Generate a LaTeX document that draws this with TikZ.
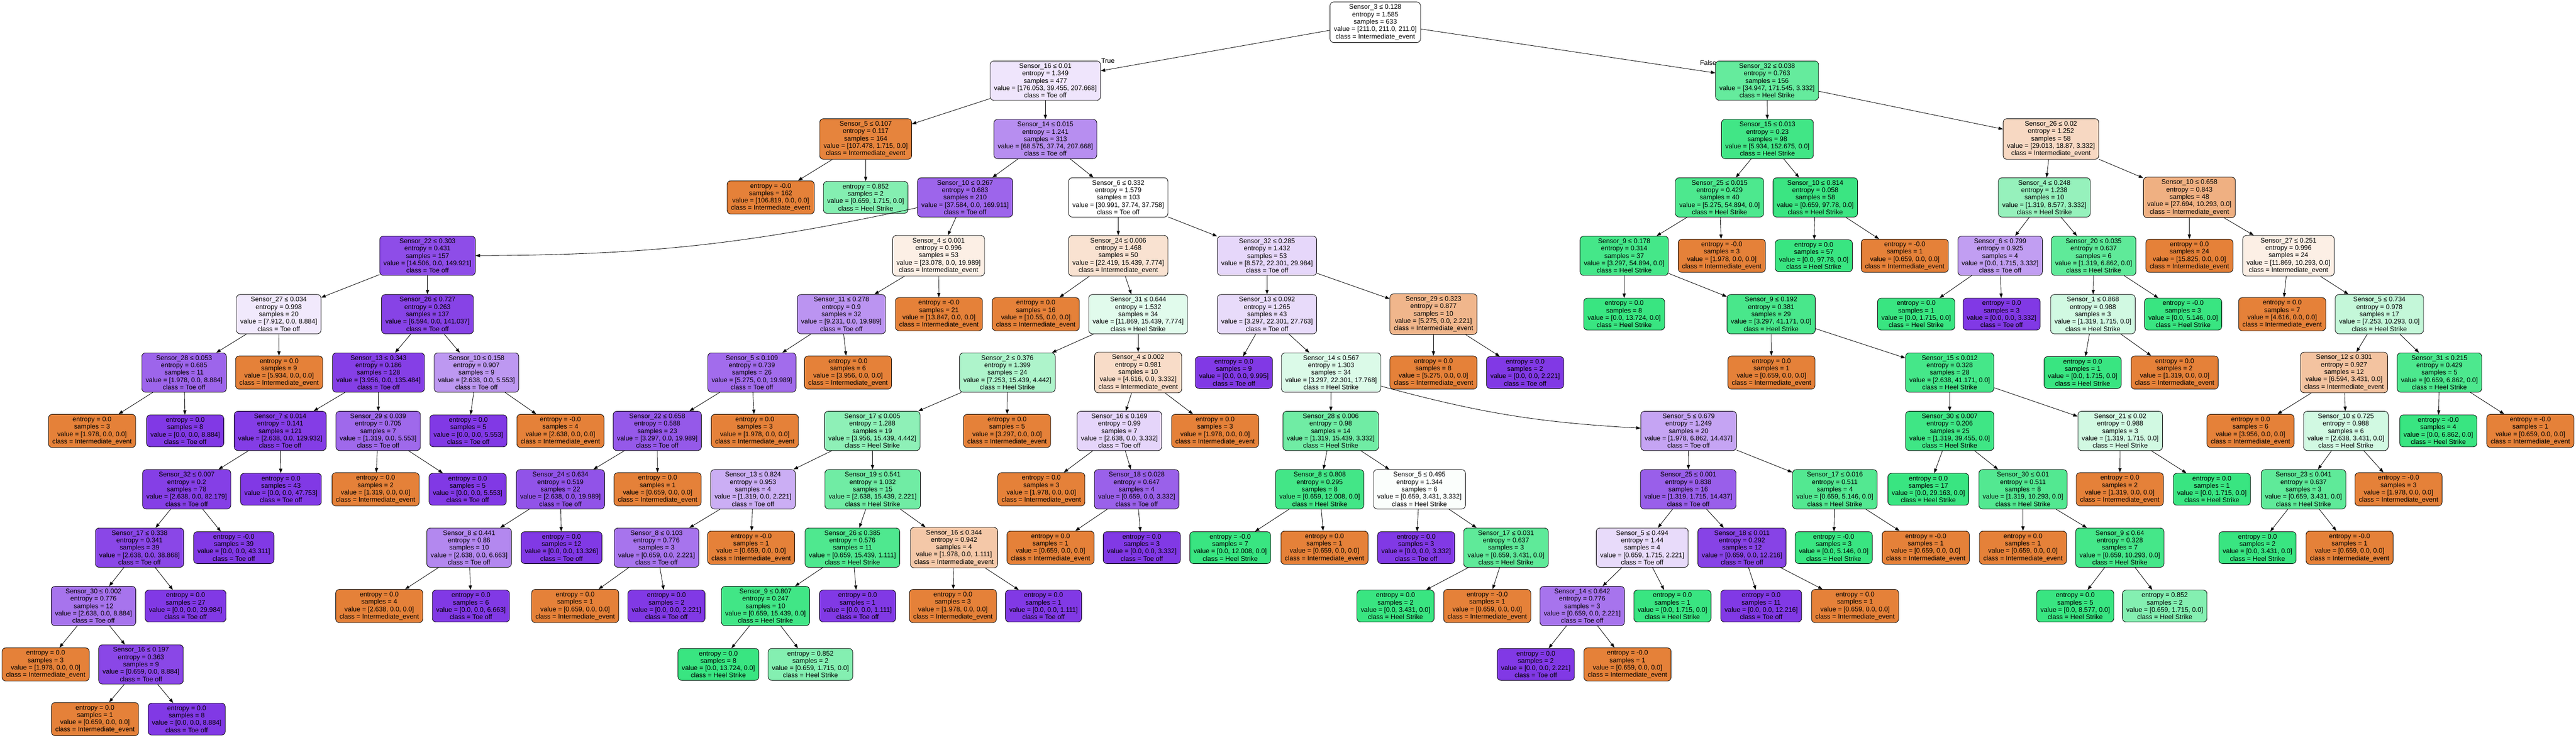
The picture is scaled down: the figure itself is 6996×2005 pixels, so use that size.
\documentclass[tikz,border=0pt]{standalone}
\usepackage{fontspec}
\setmainfont{Liberation Sans}
\usetikzlibrary{arrows.meta}
\definecolor{cI}{HTML}{E58139}
\definecolor{cH}{HTML}{39E581}
\definecolor{cT}{HTML}{8139E5}
\tikzset{
  tbox/.style={rectangle, rounded corners=5pt, draw=black, line width=0.6pt, align=center,
    inner xsep=5.25pt, inner ysep=3.5pt, font=\fontsize{9pt}{10pt}\selectfont},
  conn/.style={-{Triangle[length=6pt,width=4.4pt]}, line width=0.6pt, black},
  lbl/.style={inner sep=0pt, font=\fontsize{9pt}{10pt}\selectfont}
}
\newcommand\SPL[4]{Sensor\_#1 ≤ #2\\entropy = #3\\samples = #4}
\newcommand\LEAF[2]{entropy = #1\\samples = #2}
\newcommand\dn[7]{%
  \pgfmathsetmacro\sA{#4+#5+#6}%
  \pgfmathsetmacro\pA{#4/\sA}%
  \pgfmathsetmacro\pB{#5/\sA}%
  \pgfmathsetmacro\pC{#6/\sA}%
  \pgfmathsetmacro\mOne{max(\pA,\pB,\pC)}%
  \pgfmathsetmacro\mTwo{\pA+\pB+\pC-\mOne-min(\pA,\pB,\pC)}%
  \pgfmathtruncatemacro\alp{round(100*(\mOne-\mTwo)/(1-\mTwo))}%
  \pgfmathtruncatemacro\cls{(\pA>=\pB && \pA>=\pC) ? 0 : ((\pB>=\pC) ? 1 : 2)}%
  \pgfmathsetmacro\yy{60.5+158.6*#3-((#3>11) ? 10 : 0)}%
  \ifcase\cls \def\cname{Intermediate\_event}\colorlet{nfill}{cI!\alp!white}%
  \or \def\cname{Heel Strike}\colorlet{nfill}{cH!\alp!white}%
  \or \def\cname{Toe off}\colorlet{nfill}{cT!\alp!white}\fi
  \node[tbox, fill=nfill] (#1) at (#2,\yy) {#7\\value = [#4, #5, #6]\\class = \cname};%
}
\begin{document}
\begin{tikzpicture}[x=0.5pt,y=-0.5pt]
\useasboundingbox (0,0) rectangle (6996,2005);
% level 0-3
\dn{R}{3735}{0}{211.0}{211.0}{211.0}{\SPL{3}{0.128}{1.585}{633}}
\dn{A}{2839}{1}{176.053}{39.455}{207.668}{\SPL{16}{0.01}{1.349}{477}}
\dn{B}{4799}{1}{34.947}{171.545}{3.332}{\SPL{32}{0.038}{0.763}{156}}
\dn{Aa}{2351}{2}{107.478}{1.715}{0.0}{\SPL{5}{0.107}{0.117}{164}}
\dn{Ab}{2839}{2}{68.575}{37.74}{207.668}{\SPL{14}{0.015}{1.241}{313}}
\dn{Ba}{4800}{2}{5.934}{152.675}{0.0}{\SPL{15}{0.013}{0.23}{98}}
\dn{Bb}{5570}{2}{29.013}{18.87}{3.332}{\SPL{26}{0.02}{1.252}{58}}
\dn{Aaa}{2093}{3}{106.819}{0.0}{0.0}{\LEAF{-0.0}{162}}
\dn{Aab}{2351}{3}{0.659}{1.715}{0.0}{\LEAF{0.852}{2}}
\dn{Aba}{2621}{3}{37.584}{0.0}{169.911}{\SPL{10}{0.267}{0.683}{210}}
\dn{Abb}{3037}{3}{30.991}{37.74}{37.758}{\SPL{6}{0.332}{1.579}{103}}
\dn{Baa}{4670}{3}{5.275}{54.894}{0.0}{\SPL{25}{0.015}{0.429}{40}}
\dn{Bab}{4930}{3}{0.659}{97.78}{0.0}{\SPL{10}{0.814}{0.058}{58}}
\dn{Bba}{5552}{3}{1.319}{8.577}{3.332}{\SPL{4}{0.248}{1.238}{10}}
\dn{Bbb}{5946}{3}{27.694}{10.293}{0.0}{\SPL{10}{0.658}{0.843}{48}}
% level 4
\dn{c1}{1161}{4}{14.506}{0.0}{149.921}{\SPL{22}{0.303}{0.431}{157}}
\dn{c2}{2549}{4}{23.078}{0.0}{19.989}{\SPL{4}{0.001}{0.996}{53}}
\dn{c3}{3037}{4}{22.419}{15.439}{7.774}{\SPL{24}{0.006}{1.468}{50}}
\dn{c4}{3441}{4}{8.572}{22.301}{29.984}{\SPL{32}{0.285}{1.432}{53}}
\dn{c5}{4411}{4}{3.297}{54.894}{0.0}{\SPL{9}{0.178}{0.314}{37}}
\dn{c6}{4676}{4}{1.978}{0.0}{0.0}{\LEAF{-0.0}{3}}
\dn{c7}{4926}{4}{0.0}{97.78}{0.0}{\LEAF{0.0}{57}}
\dn{c8}{5173}{4}{0.659}{0.0}{0.0}{\LEAF{-0.0}{1}}
\dn{c9}{5432}{4}{0.0}{1.715}{3.332}{\SPL{6}{0.799}{0.925}{4}}
\dn{c10}{5686}{4}{1.319}{6.862}{0.0}{\SPL{20}{0.035}{0.637}{6}}
\dn{c11}{5946}{4}{15.825}{0.0}{0.0}{\LEAF{0.0}{24}}
\dn{c12}{6215}{4}{11.869}{10.293}{0.0}{\SPL{27}{0.251}{0.996}{24}}
% level 5
\dn{d1}{757}{5}{7.912}{0.0}{8.884}{\SPL{27}{0.034}{0.998}{20}}
\dn{d2}{1161}{5}{6.594}{0.0}{141.037}{\SPL{26}{0.727}{0.263}{137}}
\dn{d3}{2285}{5}{9.231}{0.0}{19.989}{\SPL{11}{0.278}{0.9}{32}}
\dn{d4}{2550}{5}{13.847}{0.0}{0.0}{\LEAF{-0.0}{21}}
\dn{d5}{2813}{5}{10.55}{0.0}{0.0}{\LEAF{0.0}{16}}
\dn{d6}{3091}{5}{11.869}{15.439}{7.774}{\SPL{31}{0.644}{1.532}{34}}
\dn{d7}{3441}{5}{3.297}{22.301}{27.763}{\SPL{13}{0.092}{1.265}{43}}
\dn{d8}{3893}{5}{5.275}{0.0}{2.221}{\SPL{29}{0.323}{0.877}{10}}
\dn{d9}{4411}{5}{0.0}{13.724}{0.0}{\LEAF{0.0}{8}}
\dn{d10}{4810}{5}{3.297}{41.171}{0.0}{\SPL{9}{0.192}{0.381}{29}}
\dn{d11}{5204}{5}{0.0}{1.715}{0.0}{\LEAF{0.0}{1}}
\dn{d12}{5436}{5}{0.0}{0.0}{3.332}{\LEAF{0.0}{3}}
\dn{d13}{5684}{5}{1.319}{1.715}{0.0}{\SPL{1}{0.868}{0.988}{3}}
\dn{d14}{5929}{5}{0.0}{5.146}{0.0}{\LEAF{-0.0}{3}}
\dn{d15}{6198}{5}{4.616}{0.0}{0.0}{\LEAF{0.0}{7}}
\dn{d16}{6462}{5}{7.253}{10.293}{0.0}{\SPL{5}{0.734}{0.978}{17}}
% level 6
\dn{e1}{500}{6}{1.978}{0.0}{8.884}{\SPL{28}{0.053}{0.685}{11}}
\dn{e2}{758}{6}{5.934}{0.0}{0.0}{\LEAF{0.0}{9}}
\dn{e3}{1028}{6}{3.956}{0.0}{135.484}{\SPL{13}{0.343}{0.186}{128}}
\dn{e4}{1294}{6}{2.638}{0.0}{5.553}{\SPL{10}{0.158}{0.907}{9}}
\dn{e5}{2042}{6}{5.275}{0.0}{19.989}{\SPL{5}{0.109}{0.739}{26}}
\dn{e6}{2303}{6}{3.956}{0.0}{0.0}{\LEAF{0.0}{6}}
\dn{e7}{2736}{6}{7.253}{15.439}{4.442}{\SPL{2}{0.376}{1.399}{24}}
\dn{e8}{3091}{6}{4.616}{0.0}{3.332}{\SPL{4}{0.002}{0.981}{10}}
\dn{e9}{3351}{6}{0.0}{0.0}{9.995}{\LEAF{0.0}{9}}
\dn{e10}{3615}{6}{3.297}{22.301}{17.768}{\SPL{14}{0.567}{1.303}{34}}
\dn{e11}{3893}{6}{5.275}{0.0}{0.0}{\LEAF{0.0}{8}}
\dn{e12}{4142}{6}{0.0}{0.0}{2.221}{\LEAF{0.0}{2}}
\dn{e13}{4811}{6}{0.659}{0.0}{0.0}{\LEAF{0.0}{1}}
\dn{e14}{5295}{6}{2.638}{41.171}{0.0}{\SPL{15}{0.012}{0.328}{28}}
\dn{e15}{5656}{6}{0.0}{1.715}{0.0}{\LEAF{0.0}{1}}
\dn{e16}{5906}{6}{1.319}{0.0}{0.0}{\LEAF{0.0}{2}}
\dn{e17}{6366}{6}{6.594}{3.431}{0.0}{\SPL{12}{0.301}{0.927}{12}}
\dn{e18}{6625}{6}{0.659}{6.862}{0.0}{\SPL{31}{0.215}{0.429}{5}}
% level 7
\dn{f1}{250}{7}{1.978}{0.0}{0.0}{\LEAF{0.0}{3}}
\dn{f2}{503}{7}{0.0}{0.0}{8.884}{\LEAF{0.0}{8}}
\dn{f3}{761}{7}{2.638}{0.0}{129.932}{\SPL{7}{0.014}{0.141}{121}}
\dn{f4}{1027}{7}{1.319}{0.0}{5.553}{\SPL{29}{0.039}{0.705}{7}}
\dn{f5}{1272}{7}{0.0}{0.0}{5.553}{\LEAF{0.0}{5}}
\dn{f6}{1522}{7}{2.638}{0.0}{0.0}{\LEAF{-0.0}{4}}
\dn{f7}{1785}{7}{3.297}{0.0}{19.989}{\SPL{22}{0.658}{0.588}{23}}
\dn{f8}{2050}{7}{1.978}{0.0}{0.0}{\LEAF{0.0}{3}}
\dn{f9}{2369}{7}{3.956}{15.439}{4.442}{\SPL{17}{0.005}{1.288}{19}}
\dn{f10}{2735}{7}{3.297}{0.0}{0.0}{\LEAF{0.0}{5}}
\dn{f11}{3040}{7}{2.638}{0.0}{3.332}{\SPL{16}{0.169}{0.99}{7}}
\dn{f12}{3300}{7}{1.978}{0.0}{0.0}{\LEAF{0.0}{3}}
\dn{f13}{3614}{7}{1.319}{15.439}{3.332}{\SPL{28}{0.006}{0.98}{14}}
\dn{f14}{4586}{7}{1.978}{6.862}{14.437}{\SPL{5}{0.679}{1.249}{20}}
\dn{f15}{5295}{7}{1.319}{39.455}{0.0}{\SPL{30}{0.007}{0.206}{25}}
\dn{f16}{5758}{7}{1.319}{1.715}{0.0}{\SPL{21}{0.02}{0.988}{3}}
\dn{f17}{6112}{7}{3.956}{0.0}{0.0}{\LEAF{0.0}{6}}
\dn{f18}{6371}{7}{2.638}{3.431}{0.0}{\SPL{10}{0.725}{0.988}{6}}
\dn{f19}{6622}{7}{0.0}{6.862}{0.0}{\LEAF{-0.0}{4}}
\dn{f20}{6872}{7}{0.659}{0.0}{0.0}{\LEAF{-0.0}{1}}
% level 8
\dn{g1}{507}{8}{2.638}{0.0}{82.179}{\SPL{32}{0.007}{0.2}{78}}
\dn{g2}{763}{8}{0.0}{0.0}{47.753}{\LEAF{0.0}{43}}
\dn{g3}{1020}{8}{1.319}{0.0}{0.0}{\LEAF{0.0}{2}}
\dn{g4}{1270}{8}{0.0}{0.0}{5.553}{\LEAF{0.0}{5}}
\dn{g5}{1522}{8}{2.638}{0.0}{19.989}{\SPL{24}{0.634}{0.519}{22}}
\dn{g6}{1786}{8}{0.659}{0.0}{0.0}{\LEAF{0.0}{1}}
\dn{g7}{2045}{8}{1.319}{0.0}{2.221}{\SPL{13}{0.824}{0.953}{4}}
\dn{g8}{2370}{8}{2.638}{15.439}{2.221}{\SPL{19}{0.541}{1.032}{15}}
\dn{g9}{2828}{8}{1.978}{0.0}{0.0}{\LEAF{0.0}{3}}
\dn{g10}{3087}{8}{0.659}{0.0}{3.332}{\SPL{18}{0.028}{0.647}{4}}
\dn{g11}{3584}{8}{0.659}{12.008}{0.0}{\SPL{8}{0.808}{0.295}{8}}
\dn{g12}{3855}{8}{0.659}{3.431}{3.332}{\SPL{5}{0.495}{1.344}{6}}
\dn{g13}{4585}{8}{1.319}{1.715}{14.437}{\SPL{25}{0.001}{0.838}{16}}
\dn{g14}{4983}{8}{0.659}{5.146}{0.0}{\SPL{17}{0.016}{0.511}{4}}
\dn{g15}{5237}{8}{0.0}{29.163}{0.0}{\LEAF{0.0}{17}}
\dn{g16}{5494}{8}{1.319}{10.293}{0.0}{\SPL{30}{0.01}{0.511}{8}}
\dn{g17}{5757}{8}{1.319}{0.0}{0.0}{\LEAF{0.0}{2}}
\dn{g18}{6007}{8}{0.0}{1.715}{0.0}{\LEAF{0.0}{1}}
\dn{g19}{6256}{8}{0.659}{3.431}{0.0}{\SPL{23}{0.041}{0.637}{3}}
\dn{g20}{6514}{8}{1.978}{0.0}{0.0}{\LEAF{-0.0}{3}}
% level 9
\dn{h1}{379}{9}{2.638}{0.0}{38.868}{\SPL{17}{0.338}{0.341}{39}}
\dn{h2}{635}{9}{0.0}{0.0}{43.311}{\LEAF{-0.0}{39}}
\dn{h3}{1274}{9}{2.638}{0.0}{6.663}{\SPL{8}{0.441}{0.86}{10}}
\dn{h4}{1525}{9}{0.0}{0.0}{13.326}{\LEAF{0.0}{12}}
\dn{h5}{1783}{9}{0.659}{0.0}{2.221}{\SPL{8}{0.103}{0.776}{3}}
\dn{h6}{2040}{9}{0.659}{0.0}{0.0}{\LEAF{-0.0}{1}}
\dn{h7}{2315}{9}{0.659}{15.439}{1.111}{\SPL{26}{0.385}{0.576}{11}}
\dn{h8}{2591}{9}{1.978}{0.0}{1.111}{\SPL{16}{0.344}{0.942}{4}}
\dn{h9}{2853}{9}{0.659}{0.0}{0.0}{\LEAF{0.0}{1}}
\dn{h10}{3101}{9}{0.0}{0.0}{3.332}{\LEAF{0.0}{3}}
\dn{h11}{3341}{9}{0.0}{12.008}{0.0}{\LEAF{-0.0}{7}}
\dn{h12}{3597}{9}{0.659}{0.0}{0.0}{\LEAF{0.0}{1}}
\dn{h13}{3846}{9}{0.0}{0.0}{3.332}{\LEAF{0.0}{3}}
\dn{h14}{4090}{9}{0.659}{3.431}{0.0}{\SPL{17}{0.031}{0.637}{3}}
\dn{h15}{4460}{9}{0.659}{1.715}{2.221}{\SPL{5}{0.494}{1.44}{4}}
\dn{h16}{4731}{9}{0.659}{0.0}{12.216}{\SPL{18}{0.011}{0.292}{12}}
\dn{h17}{4980}{9}{0.0}{5.146}{0.0}{\LEAF{-0.0}{3}}
\dn{h18}{5230}{9}{0.659}{0.0}{0.0}{\LEAF{-0.0}{1}}
\dn{h19}{5494}{9}{0.659}{0.0}{0.0}{\LEAF{0.0}{1}}
\dn{h20}{5757}{9}{0.659}{10.293}{0.0}{\SPL{9}{0.64}{0.328}{7}}
\dn{h21}{6131}{9}{0.0}{3.431}{0.0}{\LEAF{0.0}{2}}
\dn{h22}{6381}{9}{0.659}{0.0}{0.0}{\LEAF{-0.0}{1}}
% level 10
\dn{i1}{254}{10}{2.638}{0.0}{8.884}{\SPL{30}{0.002}{0.776}{12}}
\dn{i2}{504}{10}{0.0}{0.0}{29.984}{\LEAF{0.0}{27}}
\dn{i3}{1030}{10}{2.638}{0.0}{0.0}{\LEAF{0.0}{4}}
\dn{i4}{1279}{10}{0.0}{0.0}{6.663}{\LEAF{0.0}{6}}
\dn{i5}{1562}{10}{0.659}{0.0}{0.0}{\LEAF{0.0}{1}}
\dn{i6}{1810}{10}{0.0}{0.0}{2.221}{\LEAF{0.0}{2}}
\dn{i7}{2079}{10}{0.659}{15.439}{0.0}{\SPL{9}{0.807}{0.247}{10}}
\dn{i8}{2329}{10}{0.0}{0.0}{1.111}{\LEAF{0.0}{1}}
\dn{i9}{2588}{10}{1.978}{0.0}{0.0}{\LEAF{0.0}{3}}
\dn{i10}{2834}{10}{0.0}{0.0}{1.111}{\LEAF{0.0}{1}}
\dn{i11}{3790}{10}{0.0}{3.431}{0.0}{\LEAF{0.0}{2}}
\dn{i12}{4039}{10}{0.659}{0.0}{0.0}{\LEAF{-0.0}{1}}
\dn{i13}{4297}{10}{0.659}{0.0}{2.221}{\SPL{14}{0.642}{0.776}{3}}
\dn{i14}{4542}{10}{0.0}{1.715}{0.0}{\LEAF{0.0}{1}}
\dn{i15}{4783}{10}{0.0}{0.0}{12.216}{\LEAF{0.0}{11}}
\dn{i16}{5038}{10}{0.659}{0.0}{0.0}{\LEAF{0.0}{1}}
\dn{i17}{5636}{10}{0.0}{8.577}{0.0}{\LEAF{0.0}{5}}
\dn{i18}{5879}{10}{0.659}{1.715}{0.0}{\LEAF{0.852}{2}}
% level 11
\dn{j1}{124}{11}{1.978}{0.0}{0.0}{\LEAF{0.0}{3}}
\dn{j2}{383}{11}{0.659}{0.0}{8.884}{\SPL{16}{0.197}{0.363}{9}}
\dn{j3}{1951}{11}{0.0}{13.724}{0.0}{\LEAF{0.0}{8}}
\dn{j4}{2201}{11}{0.659}{1.715}{0.0}{\LEAF{0.852}{2}}
\dn{j5}{4171}{11}{0.0}{0.0}{2.221}{\LEAF{0.0}{2}}
\dn{j6}{4420}{11}{0.659}{0.0}{0.0}{\LEAF{-0.0}{1}}
% level 12
\dn{k1}{258}{12}{0.659}{0.0}{0.0}{\LEAF{0.0}{1}}
\dn{k2}{507}{12}{0.0}{0.0}{8.884}{\LEAF{0.0}{8}}
% labels
\node[lbl] (tlab) at (3009,165) {True};
\node[lbl] (flab) at (4639,171) {False};
% edges
\foreach \p/\c in {R/A,R/B,A/Aa,A/Ab,B/Ba,B/Bb,Aa/Aaa,Aa/Aab,Ab/Aba,Ab/Abb,Ba/Baa,Ba/Bab,Bb/Bba,Bb/Bbb,
  Aba/c2,Abb/c3,Abb/c4,Baa/c5,Baa/c6,Bab/c7,Bab/c8,Bba/c9,Bba/c10,Bbb/c11,Bbb/c12,
  c1/d1,c1/d2,c2/d3,c2/d4,c3/d5,c3/d6,c4/d7,c4/d8,c5/d9,c5/d10,c9/d11,c9/d12,c10/d13,c10/d14,c12/d15,c12/d16,
  d1/e1,d1/e2,d2/e3,d2/e4,d3/e5,d3/e6,d6/e7,d6/e8,d7/e9,d7/e10,d8/e11,d8/e12,d10/e13,d10/e14,d13/e15,d13/e16,d16/e17,d16/e18,
  e1/f1,e1/f2,e3/f3,e3/f4,e4/f5,e4/f6,e5/f7,e5/f8,e7/f9,e7/f10,e8/f11,e8/f12,e10/f13,e14/f15,e14/f16,e17/f17,e17/f18,e18/f19,e18/f20,
  f3/g1,f3/g2,f4/g3,f4/g4,f7/g5,f7/g6,f9/g7,f9/g8,f11/g9,f11/g10,f13/g11,f13/g12,f14/g13,f14/g14,f15/g15,f15/g16,f16/g17,f16/g18,f18/g19,f18/g20,
  g1/h1,g1/h2,g5/h3,g5/h4,g7/h5,g7/h6,g8/h7,g8/h8,g10/h9,g10/h10,g11/h11,g11/h12,g12/h13,g12/h14,g13/h15,g13/h16,g14/h17,g14/h18,g16/h19,g16/h20,g19/h21,g19/h22,
  h1/i1,h1/i2,h3/i3,h3/i4,h5/i5,h5/i6,h7/i7,h7/i8,h8/i9,h8/i10,h14/i11,h14/i12,h15/i13,h15/i14,h16/i15,h16/i16,h20/i17,h20/i18,
  i1/j1,i1/j2,i7/j3,i7/j4,i13/j5,i13/j6,j2/k1,j2/k2}
  {\draw[conn] (\p) -- (\c);}
\draw[conn] (Aba) to[bend left=6] (c1);
\draw[conn] (e10) to[bend right=6] (f14);
\end{tikzpicture}
\end{document}
